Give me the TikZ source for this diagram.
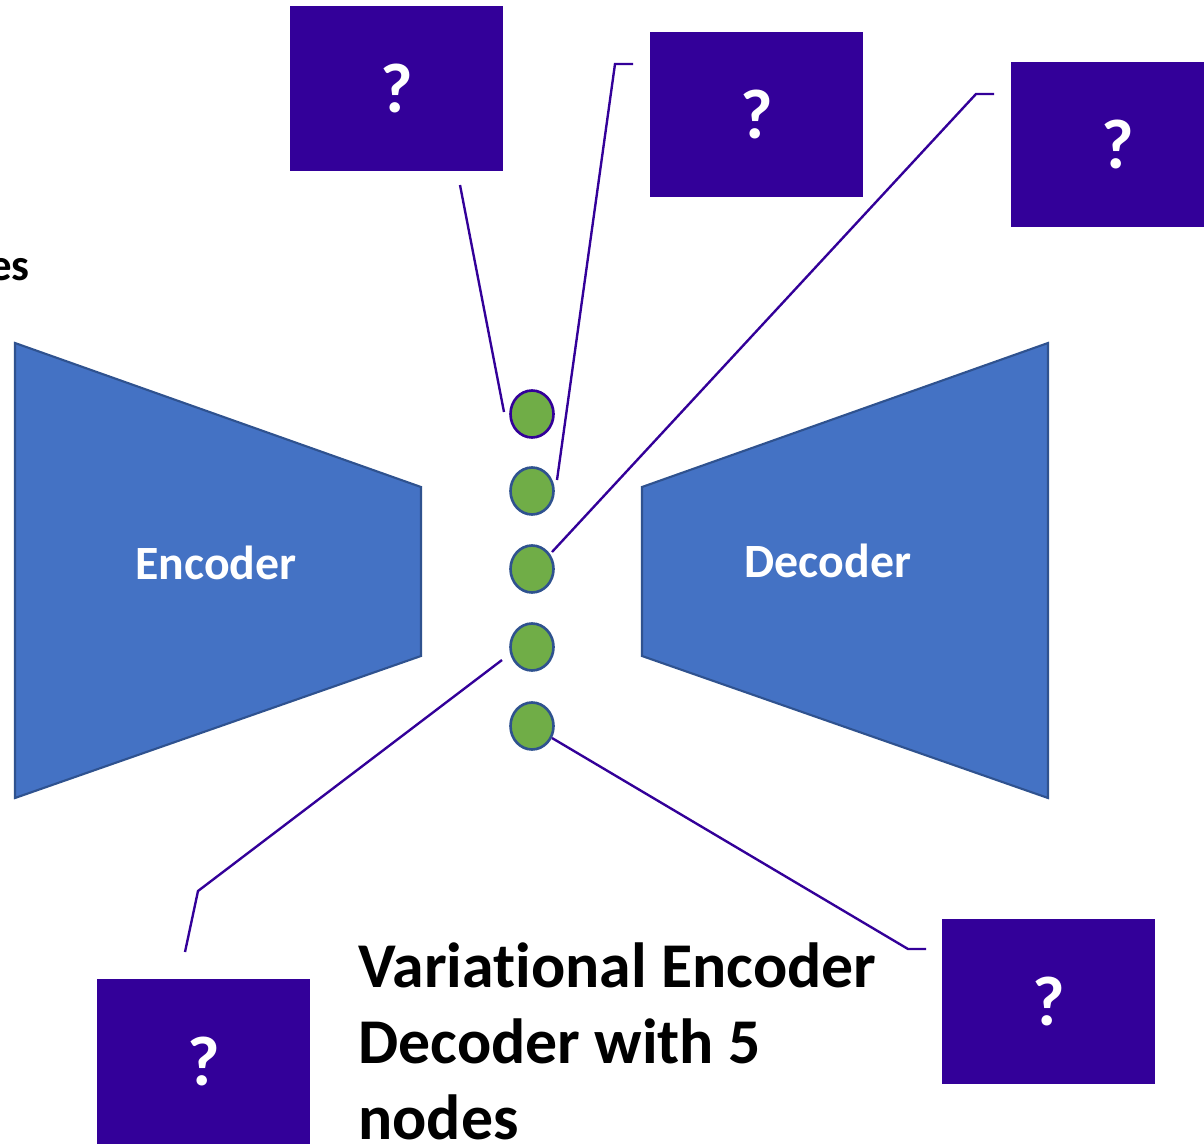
\documentclass[tikz,border=0pt]{standalone}
\usepackage{fontspec}
\setmainfont{Carlito}[Ligatures=NoCommon]
\usetikzlibrary{shapes.geometric}
\definecolor{encblue}{HTML}{4472C4}
\definecolor{encedge}{HTML}{2F528F}
\definecolor{latgreen}{HTML}{70AD47}
\definecolor{callpurple}{HTML}{330099}
\tikzset{
  coder/.style={fill=encblue, draw=encedge, line width=1.2pt},
  codertext/.style={text=white, font=\bfseries\fontsize{27.2}{33}\selectfont},
  latent/.style={ellipse, fill=latgreen, draw=encedge, line width=1.5pt,
    minimum width=0.86cm, minimum height=0.94cm, inner sep=0pt},
  qbox/.style={fill=callpurple, draw=none, minimum width=4.26cm, minimum height=3.3cm,
    text=white, font=\bfseries\fontsize{40}{48}\selectfont, inner sep=0pt},
  callout/.style={draw=callpurple, line width=1.35pt},
}
\begin{document}
\begin{tikzpicture}[x=0.02cm, y=-0.02cm]
  \path[fill=white] (0,0) rectangle (1204,1146);
  \useasboundingbox (0,0) rectangle (1204,1146);
  \begin{scope}
  \clip (0,0) rectangle (1204,1146);

  % tail of a label cut by the left edge
  \node[anchor=base east, inner sep=0pt, font=\bfseries\fontsize{25.5}{30}\selectfont] (tail) at (30,280) {es};

  % encoder and decoder
  \draw[coder] (15,343) -- (421,487) -- (421,656) -- (15,798) -- cycle;
  \node[codertext] (enc) at (216,563) {Encoder};
  \draw[coder] (642,487) -- (1048,343) -- (1048,798) -- (642,656) -- cycle;
  \node[codertext] (dec) at (828,561) {Decoder};

  % latent nodes
  \node[latent, draw=callpurple] (z1) at (532,414) {};
  \node[latent] (z2) at (532,491) {};
  \node[latent] (z3) at (532,569) {};
  \node[latent] (z4) at (532,647) {};
  \node[latent] (z5) at (532,726) {};

  % question boxes
  \node[qbox] (q1) at (396.5,88.5) {?};
  \node[qbox] (q2) at (756.5,114.5) {?};
  \node[qbox] (q3) at (1117.5,144.5) {?};
  \node[qbox] (q4) at (203.5,1061.5) {?};
  \node[qbox] (q5) at (1048.5,1001.5) {?};

  % callout ends
  \coordinate (c1a) at (460,185);
  \coordinate (c1b) at (504,412);
  \coordinate (c2a) at (557,480);
  \coordinate (c2b) at (615,64);
  \coordinate (c2c) at (633,64);
  \coordinate (c3a) at (552,552);
  \coordinate (c3b) at (976,94);
  \coordinate (c3c) at (994,94);
  \coordinate (c4a) at (502,660);
  \coordinate (c4b) at (198,891);
  \coordinate (c4c) at (185,952);
  \coordinate (c5a) at (552,738);
  \coordinate (c5b) at (908,949);
  \coordinate (c5c) at (926,949);

  \draw[callout] (c1a) -- (c1b);
  \draw[callout] (c2a) -- (c2b) -- (c2c);
  \draw[callout] (c3a) -- (c3b) -- (c3c);
  \draw[callout] (c4a) -- (c4b) -- (c4c);
  \draw[callout] (c5a) -- (c5b) -- (c5c);

  % caption
  \node[anchor=north west, inner sep=0pt, align=left,
        font=\bfseries\fontsize{36.3}{43.5}\selectfont] (cap) at (358,942)
        {Variational Encoder\\Decoder with 5\\nodes};
  \end{scope}
\end{tikzpicture}
\end{document}
